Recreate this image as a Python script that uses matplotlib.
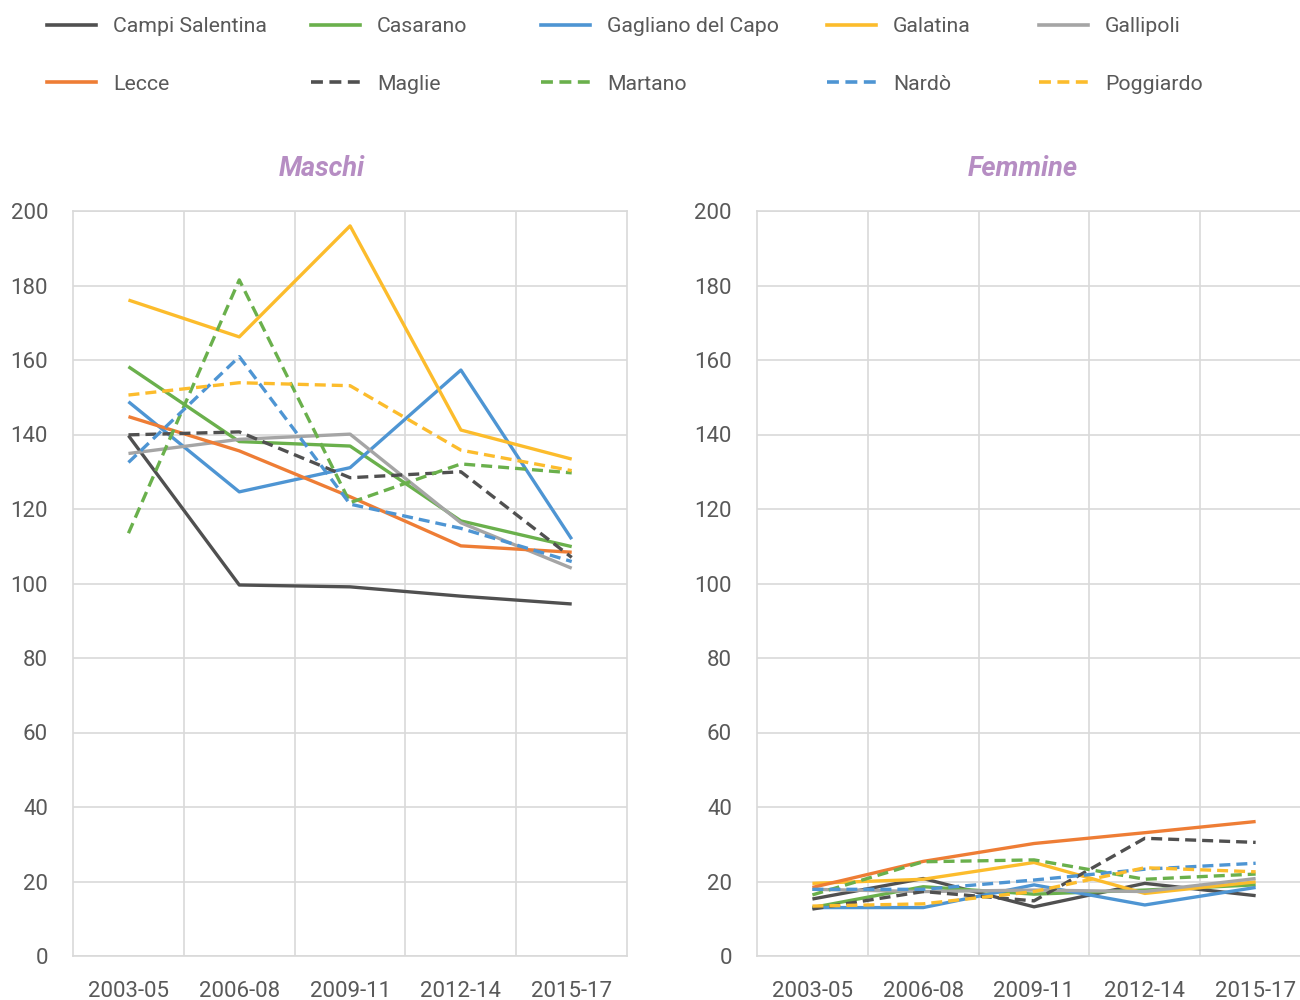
import numpy as np
import matplotlib.pyplot as plt
from matplotlib.lines import Line2D

plt.rcParams['font.family'] = ['Roboto', 'DejaVu Sans']

periods = ["2003-05", "2006-08", "2009-11", "2012-14", "2015-17"]

# Maschi
m_campi = [139.7, 99.6, 99.1, 96.6, 94.5]
m_casarano = [158.2, 138.1, 136.9, 116.8, 109.9]
m_gagliano = [148.8, 124.6, 131.1, 157.3, 111.9]
m_galatina = [176.1, 166.2, 196.0, 141.2, 133.4]
m_gallipoli = [134.9, 138.7, 140.1, 116.3, 104.1]
m_lecce = [144.8, 135.6, 123.3, 110.1, 108.4]
m_maglie = [139.9, 140.7, 128.4, 130.0, 107.0]
m_martano = [113.5, 181.5, 121.7, 132.1, 129.7]
m_nardo = [132.5, 160.9, 121.3, 114.8, 105.9]
m_poggiardo = [150.6, 153.9, 153.1, 135.8, 130.3]

# Femmine
f_campi = [15.3, 20.8, 13.2, 19.5, 16.2]
f_casarano = [13.0, 18.6, 16.6, 17.7, 19.1]
f_gagliano = [13.0, 13.0, 19.1, 13.7, 18.4]
f_galatina = [19.5, 20.6, 25.1, 16.8, 19.9]
f_gallipoli = [17.9, 17.3, 17.7, 17.3, 20.8]
f_lecce = [18.4, 25.4, 30.2, 33.1, 36.1]
f_maglie = [12.6, 17.3, 14.8, 31.6, 30.5]
f_martano = [16.4, 25.3, 25.8, 20.6, 22.0]
f_nardo = [17.9, 17.9, 20.4, 23.3, 24.9]
f_poggiardo = [13.4, 14.0, 17.3, 23.7, 22.6]

names = ["Campi Salentina", "Casarano", "Gagliano del Capo", "Galatina", "Gallipoli",
         "Lecce", "Maglie", "Martano", "Nardò", "Poggiardo"]
maschi = [m_campi, m_casarano, m_gagliano, m_galatina, m_gallipoli,
          m_lecce, m_maglie, m_martano, m_nardo, m_poggiardo]
femmine = [f_campi, f_casarano, f_gagliano, f_galatina, f_gallipoli,
           f_lecce, f_maglie, f_martano, f_nardo, f_poggiardo]

colors = ["#505050", "#6ab04c", "#4e95d3", "#fcbc2c", "#a5a5a5",
          "#ee7d35", "#505050", "#6ab04c", "#4e95d3", "#fcbc2c"]
dashed = (0, (3.3, 1.8))
styles = ["-"] * 6 + [dashed] * 4

grid_c = "#d9d9d9"
text_c = "#595959"
title_c = "#b68dc3"

fig = plt.figure(figsize=(13, 10), dpi=100)
ax1 = fig.add_axes([0.0562, 0.044, 0.4262, 0.745])
ax2 = fig.add_axes([0.5823, 0.044, 0.4262, 0.745])

x = np.arange(len(periods))
for ax, data in [(ax1, maschi), (ax2, femmine)]:
    for vals, c, ls in zip(data, colors, styles):
        ax.plot(x, vals, color=c, linestyle=ls, linewidth=2.4, solid_capstyle='butt')
    ax.set_xlim(-0.5, 4.5)
    ax.set_ylim(0, 200)
    ax.set_yticks(np.arange(0, 201, 20))
    ax.set_xticks(x)
    ax.set_xticklabels(periods)
    ax.set_xticks(np.arange(0.5, 4.5, 1), minor=True)
    ax.grid(True, which='minor', axis='x', color=grid_c, linewidth=1.2)
    ax.grid(True, which='major', axis='y', color=grid_c, linewidth=1.2)
    ax.set_axisbelow(True)
    for s in ax.spines.values():
        s.set_color(grid_c)
        s.set_linewidth(1.2)
    ax.tick_params(which='both', length=0)
    ax.tick_params(axis='y', labelsize=16, labelcolor=text_c, pad=18)
    ax.tick_params(axis='x', labelsize=16, labelcolor=text_c, pad=18)

fig.text(322 / 1300, 0.832, "Maschi", ha='center', va='center', fontsize=19.5,
         fontweight='bold', fontstyle='italic', color=title_c)
fig.text(1023 / 1300, 0.832, "Femmine", ha='center', va='center', fontsize=19.5,
         fontweight='bold', fontstyle='italic', color=title_c)

# legend, placed like the original (2 rows x 5 columns)
col_x = [47, 311, 541, 827, 1039]
row_y = [25, 82]
for i, (name, c, ls) in enumerate(zip(names, colors, styles)):
    cx = col_x[i % 5]
    cy = row_y[i // 5]
    yf = 1 - cy / 1000
    fig.add_artist(Line2D([cx / 1300, (cx + 49) / 1300], [yf, yf], color=c,
                          linestyle=ls, linewidth=2.6, transform=fig.transFigure))
    fig.text((cx + 66) / 1300, yf, name, ha='left', va='center_baseline', fontsize=15.3,
             color=text_c)

fig.savefig("out.png", dpi=100)
